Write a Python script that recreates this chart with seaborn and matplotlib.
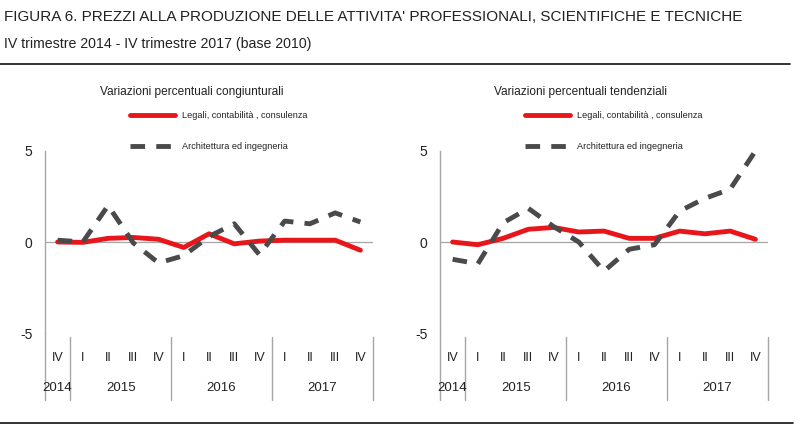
import numpy as np
import pandas as pd
import matplotlib
matplotlib.use("Agg")
import matplotlib.pyplot as plt
import seaborn as sns
from matplotlib.lines import Line2D

sns.set_theme(style="white")
plt.rcParams['font.family'] = ['Liberation Sans', 'DejaVu Sans']

# Trimestri IV 2014 - IV 2017
quarters = ['IV', 'I', 'II', 'III', 'IV', 'I', 'II', 'III', 'IV', 'I', 'II', 'III', 'IV']
years = ['2014', '2015', '2015', '2015', '2015', '2016', '2016', '2016', '2016',
         '2017', '2017', '2017', '2017']

SERIES = ['Legali, contabilità , consulenza', 'Architettura ed ingegneria']

# Variazioni congiunturali
cong_legali = [0.0, -0.02, 0.2, 0.25, 0.15, -0.3, 0.45, -0.1, 0.05, 0.1, 0.1, 0.1, -0.45]
cong_arch = [0.1, 0.0, 2.0, -0.05, -1.15, -0.75, 0.3, 1.0, -0.7, 1.15, 1.0, 1.6, 1.1]

# Variazioni tendenziali
tend_legali = [0.0, -0.15, 0.2, 0.7, 0.8, 0.55, 0.6, 0.2, 0.2, 0.6, 0.45, 0.6, 0.15]
tend_arch = [-0.95, -1.2, 1.05, 1.85, 0.85, 0.0, -1.6, -0.4, -0.15, 1.7, 2.4, 2.9, 5.0]

RED = '#e8161b'
GREY = '#4a4a4a'
AXIS = '#a6a6a6'
TXT = '#222222'


def long_df(legali, arch):
    n = len(quarters)
    return pd.DataFrame({
        'pos': list(range(n)) * 2,
        'valore': list(legali) + list(arch),
        'serie': [SERIES[0]] * n + [SERIES[1]] * n,
    })


def draw_panel(ax, df, title, title_x, leg_x):
    sns.lineplot(data=df, x='pos', y='valore', hue='serie', style='serie',
                 hue_order=SERIES, style_order=SERIES,
                 palette={SERIES[0]: RED, SERIES[1]: GREY},
                 dashes={SERIES[0]: '', SERIES[1]: (3.0, 2.3)},
                 linewidth=3.5, legend=False, ax=ax)
    n = len(quarters)
    ax.set_xlim(-0.5, n - 0.5)
    ax.set_ylim(-5, 5)
    ax.set_yticks([5, 0, -5])
    ax.set_yticklabels(['5', '0', '-5'])
    ax.tick_params(axis='y', length=0, pad=9, labelsize=10, colors=TXT)
    ax.set_xticks(range(n))
    ax.set_xticklabels(quarters)
    ax.tick_params(axis='x', length=0, pad=14, labelsize=9, colors=TXT)
    ax.set_xlabel('')
    ax.set_ylabel('')
    for s in ['top', 'right', 'bottom']:
        ax.spines[s].set_visible(False)
    ax.spines['left'].set_color(AXIS)
    ax.spines['left'].set_linewidth(1.0)
    ax.axhline(0, color=AXIS, lw=0.9, zorder=0)

    trans = ax.get_xaxis_transform()
    # left spine extension and year separators
    ax.plot([-0.5, -0.5], [0, -0.37], transform=trans, color=AXIS, lw=1.0, clip_on=False)
    bounds = [i - 0.5 for i in range(1, n) if years[i] != years[i - 1]] + [n - 0.5]
    for b in bounds:
        ax.plot([b, b], [-0.02, -0.37], transform=trans, color=AXIS, lw=1.0, clip_on=False)
    # year labels
    for y in dict.fromkeys(years):
        idx = [i for i, v in enumerate(years) if v == y]
        ax.text(np.mean(idx), -0.30, y, transform=trans, ha='center', va='center',
                fontsize=9.5, color=TXT)

    fig.text(title_x, 1 - 92 / 436, title, ha='center', va='center', fontsize=8.6, color=TXT)
    ax.legend(handles=ax.lines[:2], labels=SERIES, loc='upper left',
              bbox_to_anchor=(leg_x, 1 - 111 / 436), bbox_transform=fig.transFigure,
              frameon=False, fontsize=6.6, handlelength=4.9, handletextpad=0.8,
              labelspacing=2.4, borderpad=0, borderaxespad=0, labelcolor=TXT)


fig = plt.figure(figsize=(8, 4.36), dpi=100)
ax1 = fig.add_axes([45 / 800, 1 - 333 / 436, 328 / 800, 182 / 436])
ax2 = fig.add_axes([440 / 800, 1 - 333 / 436, 328 / 800, 182 / 436])

draw_panel(ax1, long_df(cong_legali, cong_arch), 'Variazioni percentuali congiunturali', 192 / 800, 130 / 800)
draw_panel(ax2, long_df(tend_legali, tend_arch), 'Variazioni percentuali tendenziali', 581 / 800, 525 / 800)

fig.text(4 / 800, 1 - 17 / 436,
         "FIGURA 6. PREZZI ALLA PRODUZIONE DELLE ATTIVITA' PROFESSIONALI, SCIENTIFICHE E TECNICHE",
         ha='left', va='center', fontsize=11, color=TXT)
fig.text(4 / 800, 1 - 44 / 436, 'IV trimestre 2014 - IV trimestre 2017 (base 2010)',
         ha='left', va='center', fontsize=10.2, color=TXT)
fig.add_artist(Line2D([0, 790 / 800], [1 - 64 / 436] * 2, color='#111111', lw=1.2))
fig.add_artist(Line2D([0, 793 / 800], [1 - 423 / 436] * 2, color='#111111', lw=1.2))

fig.savefig('out.png', dpi=100)
